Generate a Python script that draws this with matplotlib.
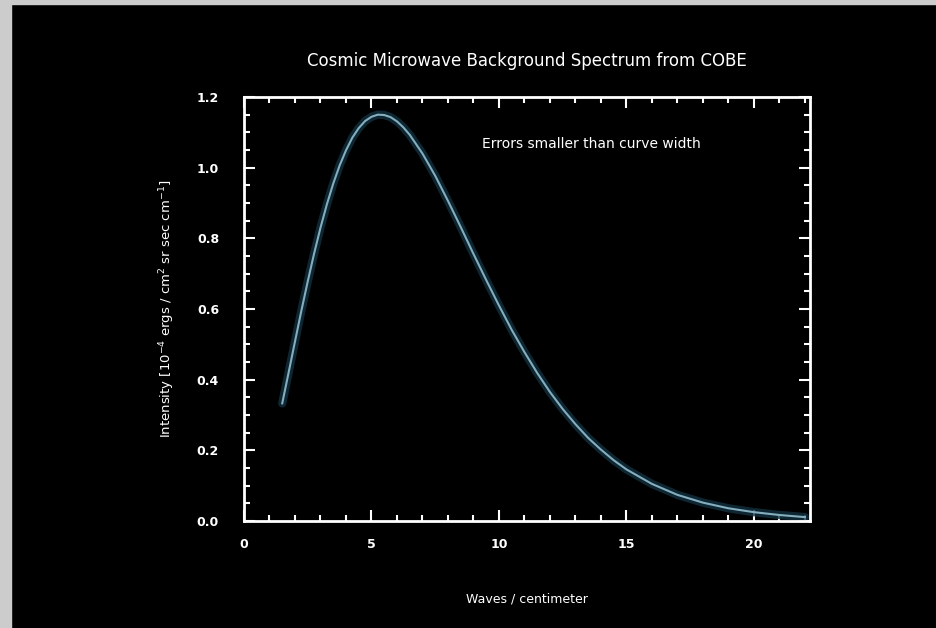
import numpy as np
from matplotlib import pyplot as plt
from matplotlib.patches import Rectangle
from matplotlib.ticker import MultipleLocator

# Spectrum (waves/cm, intensity in 1e-4 units)
freq = [1.5, 1.75, 2.0, 2.25, 2.5, 2.75, 3.0, 3.25, 3.5, 3.75, 4.0, 4.25, 4.5,
        4.75, 5.0, 5.25, 5.5, 5.75, 6.0, 6.25, 6.5, 7.0, 7.5, 8.0, 8.5, 9.0,
        9.5, 10.0, 10.5, 11.0, 11.5, 12.0, 12.5, 13.0, 13.5, 14.0, 14.5, 15.0,
        16.0, 17.0, 18.0, 19.0, 20.0, 21.0, 22.0]
intensity = [0.333, 0.420, 0.508, 0.595, 0.678, 0.757, 0.830, 0.896, 0.955,
             1.006, 1.049, 1.085, 1.112, 1.132, 1.144, 1.150, 1.149, 1.143,
             1.131, 1.114, 1.093, 1.040, 0.977, 0.906, 0.832, 0.756, 0.682,
             0.610, 0.541, 0.478, 0.419, 0.365, 0.317, 0.274, 0.235, 0.202,
             0.172, 0.146, 0.105, 0.074, 0.052, 0.036, 0.025, 0.017, 0.011]

title = "Cosmic Microwave Background Spectrum from COBE"
xlab = "Waves / centimeter"
ylab = "Intensity [10$^{-4}$ ergs / cm$^2$ sr sec cm$^{-1}$]"
note = "Errors smaller than curve width"

fig = plt.figure(figsize=(9.36, 6.28), dpi=100, facecolor='black')
# grey frame strips on top and left edge
fig.add_artist(Rectangle((0, 1 - 4/628), 1, 4/628, transform=fig.transFigure,
                         color='#cccccc', zorder=0))
fig.add_artist(Rectangle((0, 0), 11/936, 1, transform=fig.transFigure,
                         color='#cccccc', zorder=0))

ax = fig.add_axes([244/936, 1 - 521/628, (810 - 244)/936, (521 - 97)/628])
ax.set_facecolor('black')

ax.plot(freq, intensity, color='#12303f', lw=6, alpha=0.8, solid_capstyle='round')
ax.plot(freq, intensity, color='#84adbd', lw=1.5)

ax.set_xlim(0, 22.2)
ax.set_ylim(0, 1.2)
ax.xaxis.set_major_locator(MultipleLocator(5))
ax.xaxis.set_minor_locator(MultipleLocator(1))
ax.yaxis.set_major_locator(MultipleLocator(0.2))
ax.yaxis.set_minor_locator(MultipleLocator(0.05))
ax.yaxis.set_major_formatter(plt.FormatStrFormatter('%.1f'))

for s in ax.spines.values():
    s.set_color('white')
    s.set_linewidth(2)
ax.tick_params(which='both', direction='in', colors='white', top=True, right=True,
               labelsize=9, width=1.5)
ax.tick_params(which='major', length=8)
ax.tick_params(axis='x', which='major', pad=12)
ax.tick_params(axis='y', which='major', pad=18)
ax.tick_params(which='minor', length=4)
for lab in ax.get_xticklabels() + ax.get_yticklabels():
    lab.set_fontweight('bold')

ax.set_title(title, color='white', fontsize=12, pad=22)
ax.set_xlabel(xlab, color='white', fontsize=9, labelpad=30)
ax.set_ylabel(ylab, color='white', fontsize=9.5, labelpad=14)
ax.text(0.42, 0.88, note, transform=ax.transAxes, color='white', fontsize=10)

fig.savefig('out.png', dpi=100, facecolor='black')
